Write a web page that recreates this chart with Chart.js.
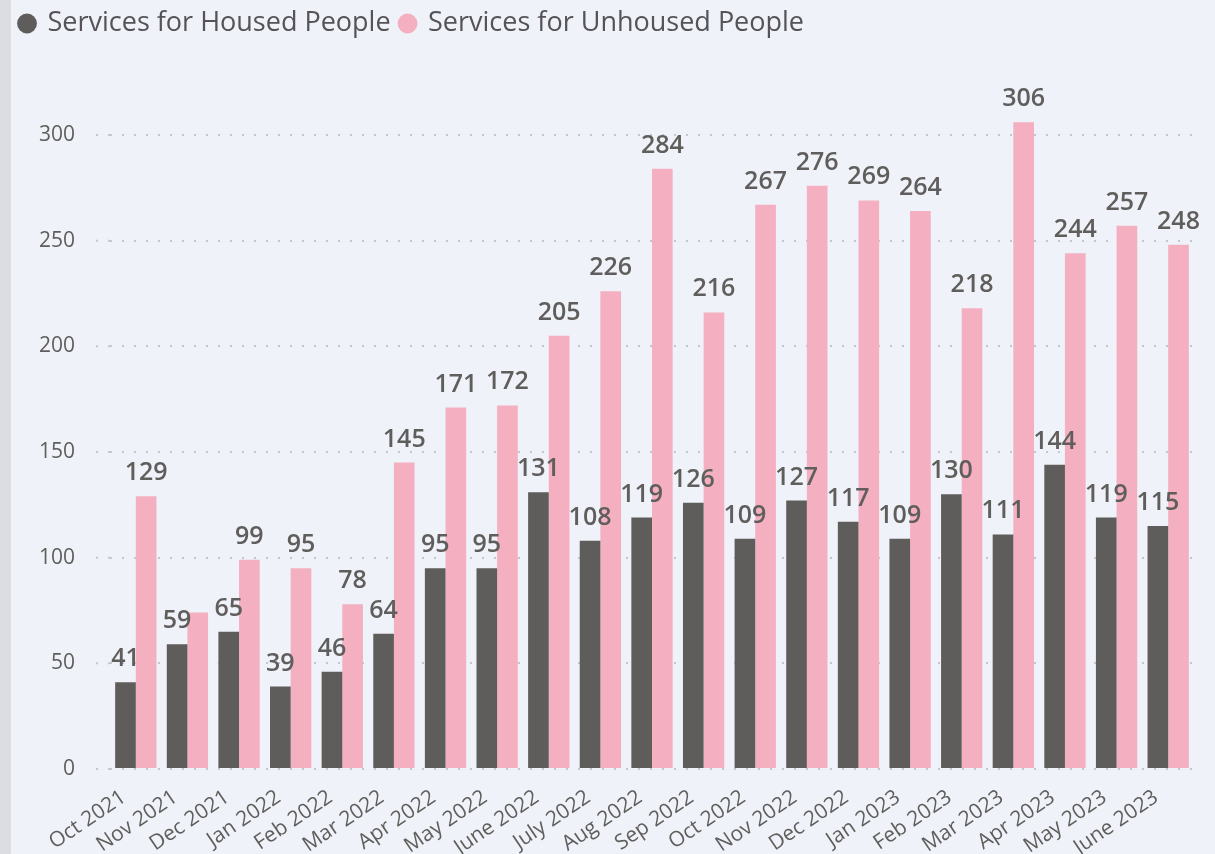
<!DOCTYPE html>
<html>
<head>
<meta charset="utf-8">
<script src="https://cdn.jsdelivr.net/npm/chart.js@4/dist/chart.umd.min.js"></script>
<style>
  html, body { margin: 0; padding: 0; background: #eff2f8; }
  #wrap { position: relative; width: 1215px; height: 854px; }
  #strip { position: absolute; left: 0; top: 0; width: 11px; height: 854px; background: #dcdde2; }
  canvas { position: absolute; left: 0; top: 0; }
</style>
</head>
<body>
<div id="wrap">
  <div id="strip"></div>
  <canvas id="grafica" width="1215" height="854"></canvas>
</div>
<script>
// Datos
const meses = ["Oct 2021", "Nov 2021", "Dec 2021", "Jan 2022", "Feb 2022", "Mar 2022", "Apr 2022",
    "May 2022", "June 2022", "July 2022", "Aug 2022", "Sep 2022", "Oct 2022", "Nov 2022",
    "Dec 2022", "Jan 2023", "Feb 2023", "Mar 2023", "Apr 2023", "May 2023", "June 2023"];
const housed = [41, 59, 65, 39, 46, 64, 95, 95, 131, 108, 119, 126, 109, 127, 117, 109, 130, 111, 144, 119, 115];
const unhoused = [129, 74, 99, 95, 78, 145, 171, 172, 205, 226, 284, 216, 267, 276, 269, 264, 218, 306, 244, 257, 248];
const yTicks = [0, 50, 100, 150, 200, 250, 300];

const gris = "#605e5c";
const FONT = "'Open Sans', 'Noto Sans', sans-serif";

// etiquetas encima de las barras
const etiquetas = {
    id: "etiquetas",
    afterDatasetsDraw(chart) {
        const ctx = chart.ctx;
        ctx.save();
        ctx.font = "600 25px " + FONT;
        ctx.fillStyle = gris;
        ctx.textAlign = "center";
        ctx.textBaseline = "alphabetic";
        chart.data.datasets.forEach((ds, i) => {
            const meta = chart.getDatasetMeta(i);
            meta.data.forEach((bar, j) => {
                // Power BI oculta la etiqueta rosa cuando queda muy pegada
                if (i === 1 && ds.data[j] - housed[j] < 20) return;
                ctx.fillText(ds.data[j], bar.x, bar.y - 16);
            });
        });
        ctx.restore();
    }
};

// la rejilla punteada empieza un poco antes del area de barras
const rejillaExtra = {
    id: "rejillaExtra",
    beforeDatasetsDraw(chart) {
        const ctx = chart.ctx;
        const y = chart.scales.y;
        ctx.save();
        ctx.strokeStyle = "#c5c7cc";
        ctx.lineWidth = 2;
        ctx.setLineDash([2, 10]);
        yTicks.forEach(v => {
            const py = y.getPixelForValue(v);
            ctx.beginPath();
            ctx.moveTo(chart.chartArea.left - 14, py);
            ctx.lineTo(chart.chartArea.left, py);
            ctx.stroke();
        });
        ctx.restore();
    }
};

const ctx = document.getElementById("grafica").getContext("2d");

new Chart(ctx, {
    type: "bar",
    data: {
        labels: meses,
        datasets: [
            { label: "Services for Housed People", data: housed, backgroundColor: "#5f5d5b" },
            { label: "Services for Unhoused People", data: unhoused, backgroundColor: "#f4afc0" }
        ]
    },
    options: {
        responsive: false,
        animation: false,
        layout: { padding: { left: 10, right: 21, top: 0, bottom: 0 } },
        datasets: { bar: { categoryPercentage: 0.8, barPercentage: 1.0 } },
        plugins: {
            tooltip: { enabled: false },
            legend: {
                align: "start",
                labels: {
                    usePointStyle: true,
                    pointStyle: "circle",
                    boxWidth: 14,
                    boxHeight: 14,
                    padding: 10,
                    color: "#555357",
                    font: { family: FONT, size: 27 }
                }
            }
        },
        scales: {
            x: {
                afterFit: s => { s.height = 85; },
                grid: { display: false },
                border: { display: false },
                ticks: {
                    color: gris,
                    font: { family: FONT, size: 21 },
                    minRotation: 34,
                    maxRotation: 34,
                    padding: 8,
                    labelOffset: -12
                }
            },
            y: {
                min: 0,
                max: 335,
                afterFit: s => { s.width = 100; },
                afterBuildTicks: s => { s.ticks = yTicks.map(v => ({ value: v })); },
                grid: { color: "#c5c7cc", lineWidth: 2, drawTicks: false },
                border: { display: false, dash: [2, 10] },
                ticks: {
                    color: gris,
                    font: { family: FONT, size: 21 },
                    padding: 35
                }
            }
        }
    },
    plugins: [etiquetas, rejillaExtra, {
        id: "altoLeyenda",
        beforeInit(chart) {
            const fit = chart.legend.fit;
            chart.legend.fit = function () {
                fit.bind(chart.legend)();
                this.height = 61;
            };
        }
    }]
});
</script>
</body>
</html>
